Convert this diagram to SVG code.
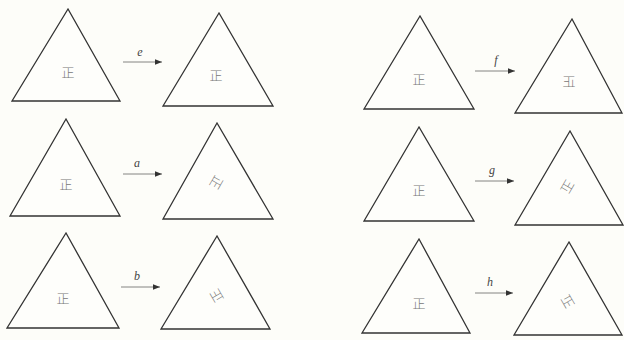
<svg xmlns="http://www.w3.org/2000/svg" width="624" height="340" viewBox="0 0 624 340">
<defs>
<style>
.tri{fill:#fefefb;stroke:#333;stroke-width:1.3;stroke-linejoin:miter}
.ch{font-family:"Noto Sans CJK SC","Noto Sans CJK JP",serif;font-size:13px;font-weight:300;fill:#777;text-anchor:middle;dominant-baseline:central}
.lbl{font-family:"Liberation Serif",serif;font-style:italic;font-size:12px;fill:#444;text-anchor:middle}
.arr{stroke:#666;stroke-width:0.8;fill:none}
</style>
<marker id="ah" viewBox="0 0 10 10" refX="10" refY="5" markerWidth="7" markerHeight="7" markerUnits="userSpaceOnUse" orient="auto">
<path d="M0,1 L10,5 L0,9 z" fill="#333"/>
</marker>
</defs>
<rect width="624" height="340" fill="#fdfdf9"/>
<g id="t-e-src"><polygon class="tri" points="68,9 12,101 120,101"/><text class="ch" x="68" y="71">正</text></g>
<g id="t-e-dst"><polygon class="tri" points="219,13 163,106 273,106"/><text class="ch" x="216" y="74">正</text></g>
<g id="t-f-src"><polygon class="tri" points="420,16 364,109 474,109"/><text class="ch" x="419" y="78">正</text></g>
<g id="t-f-dst"><polygon class="tri" points="572,19 515,113 622,113"/><text class="ch" transform="translate(569,80) scale(-1,1)" x="0" y="0">正</text></g>
<g id="t-a-src"><polygon class="tri" points="66,119 10,216 120,216"/><text class="ch" x="66" y="183">正</text></g>
<g id="t-a-dst"><polygon class="tri" points="217,123 163,219 273,219"/><text class="ch" transform="translate(217,183) rotate(120)" x="0" y="0">正</text></g>
<g id="t-g-src"><polygon class="tri" points="419,127 364,221 474,221"/><text class="ch" x="419" y="189">正</text></g>
<g id="t-g-dst"><polygon class="tri" points="570,131 515,225 623,225"/><text class="ch" transform="translate(568,187) rotate(120) scale(-1,1)" x="0" y="0">正</text></g>
<g id="t-b-src"><polygon class="tri" points="66,233 7,328 119,328"/><text class="ch" x="63" y="297">正</text></g>
<g id="t-b-dst"><polygon class="tri" points="217,236 161,329 270,329"/><text class="ch" transform="translate(216,296) rotate(240)" x="0" y="0">正</text></g>
<g id="t-h-src"><polygon class="tri" points="419,239 362,333 470,333"/><text class="ch" x="419" y="302">正</text></g>
<g id="t-h-dst"><polygon class="tri" points="569,242 514,335 622,335"/><text class="ch" transform="translate(567,302) rotate(240) scale(-1,1)" x="0" y="0">正</text></g>
<g id="connectors">
<line class="arr" x1="123" y1="62" x2="162" y2="62" marker-end="url(#ah)"/>
<text class="lbl" x="140" y="56">e</text>
<line class="arr" x1="475" y1="71" x2="515" y2="71" marker-end="url(#ah)"/>
<text class="lbl" x="496" y="64">f</text>
<line class="arr" x1="123" y1="174" x2="162" y2="174" marker-end="url(#ah)"/>
<text class="lbl" x="137" y="167">a</text>
<line class="arr" x1="475" y1="181" x2="514" y2="181" marker-end="url(#ah)"/>
<text class="lbl" x="492" y="174">g</text>
<line class="arr" x1="121" y1="287" x2="160" y2="287" marker-end="url(#ah)"/>
<text class="lbl" x="137" y="280">b</text>
<line class="arr" x1="475" y1="293" x2="513" y2="293" marker-end="url(#ah)"/>
<text class="lbl" x="490" y="286">h</text>
</g>
</svg>
